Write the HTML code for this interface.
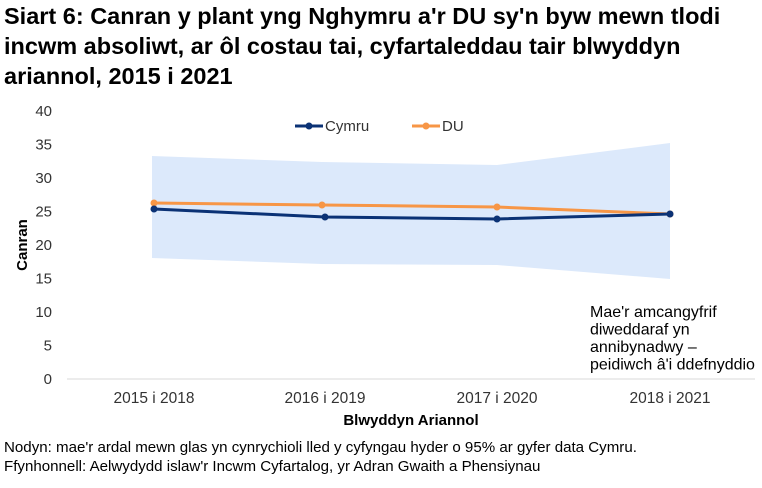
<!DOCTYPE html>
<html><head><meta charset="utf-8"><style>
body{margin:0;background:#fff;width:762px;height:488px;overflow:hidden;font-family:"Liberation Sans",sans-serif}
.t{position:absolute;left:4px;top:1px;font-size:23.5px;font-weight:bold;line-height:30px;color:#000;white-space:nowrap}
</style></head><body>
<div class="t">Siart 6: Canran y plant yng Nghymru a'r DU sy'n byw mewn tlodi<br>incwm absoliwt, ar ôl costau tai, cyfartaleddau tair blwyddyn<br>ariannol, 2015 i 2021</div>
<svg width="762" height="488" style="position:absolute;left:0;top:0" font-family="Liberation Sans, sans-serif">
<g font-size="15" fill="#333" text-anchor="end">
<text x="52" y="116">40</text><text x="52" y="149.5">35</text><text x="52" y="183">30</text><text x="52" y="216.5">25</text><text x="52" y="250">20</text><text x="52" y="283.5">15</text><text x="52" y="317">10</text><text x="52" y="350.5">5</text><text x="52" y="384">0</text>
</g>
<text transform="translate(27,245) rotate(-90)" font-size="15" font-weight="bold" text-anchor="middle">Canran</text>
<polygon points="152,156 322,162 497,165 670,143 670,279 497,265 322,264 152,258" fill="#dce9fb"/>
<line x1="67" y1="379" x2="755" y2="379" stroke="#d9d9d9" stroke-width="1"/>
<polyline points="154,203 322,205 497,207 670,214" fill="none" stroke="#f79646" stroke-width="3"/>
<g fill="#f79646"><circle cx="154" cy="203" r="3.5"/><circle cx="322" cy="205" r="3.5"/><circle cx="497" cy="207" r="3.5"/><circle cx="670" cy="214" r="3.5"/></g>
<polyline points="154,209 325,217 497,219 670,214" fill="none" stroke="#0b3275" stroke-width="3"/>
<g fill="#0b3275"><circle cx="154" cy="209" r="3.5"/><circle cx="325" cy="217" r="3.5"/><circle cx="497" cy="219" r="3.5"/><circle cx="670" cy="214" r="3.5"/></g>
<line x1="295" y1="126" x2="323" y2="126" stroke="#0b3275" stroke-width="3"/><circle cx="309" cy="126" r="3.5" fill="#0b3275"/>
<text x="325" y="131" font-size="15" fill="#333">Cymru</text>
<line x1="412" y1="126" x2="440" y2="126" stroke="#f79646" stroke-width="3"/><circle cx="426" cy="126" r="3.5" fill="#f79646"/>
<text x="442" y="131" font-size="15" fill="#333">DU</text>
<g font-size="15.5" fill="#333" text-anchor="middle">
<text x="154" y="403">2015 i 2018</text><text x="325" y="403">2016 i 2019</text><text x="497" y="403">2017 i 2020</text><text x="670" y="403">2018 i 2021</text>
</g>
<text x="411" y="425" font-size="15" font-weight="bold" text-anchor="middle">Blwyddyn Ariannol</text>
<g font-size="16" fill="#000">
<text x="590" y="317">Mae'r amcangyfrif</text><text x="590" y="334.5">diweddaraf yn</text><text x="590" y="352">annibynadwy –</text><text x="590" y="369.5">peidiwch â'i ddefnyddio</text>
</g>
<g font-size="15.1" fill="#000">
<text x="4" y="452">Nodyn: mae'r ardal mewn glas yn cynrychioli lled y cyfyngau hyder o 95% ar gyfer data Cymru.</text>
<text x="4" y="471">Ffynhonnell: Aelwydydd islaw'r Incwm Cyfartalog, yr Adran Gwaith a Phensiynau</text>
</g>
</svg>
</body></html>
